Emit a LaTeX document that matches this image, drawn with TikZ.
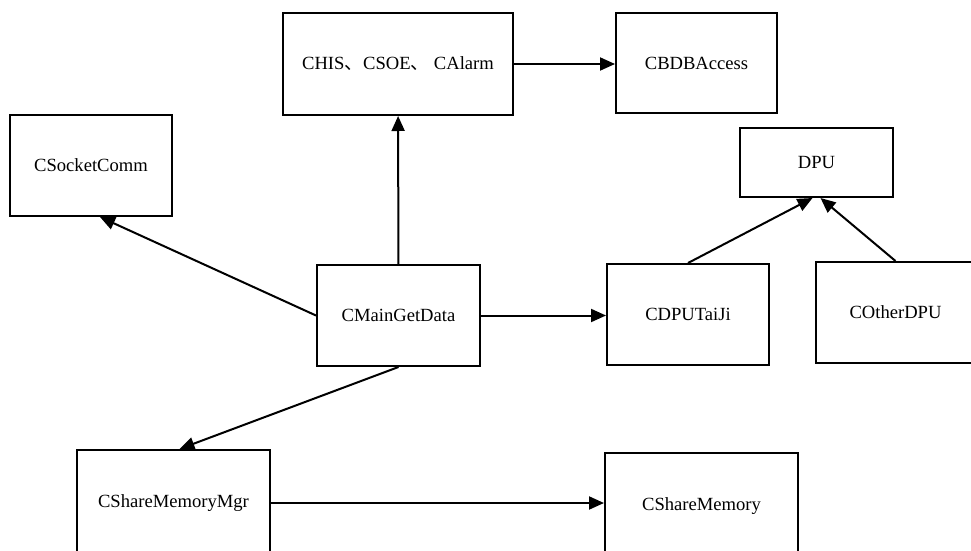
\documentclass[tikz,border=0pt]{standalone}
\usepackage{fontspec}
\setmainfont{Liberation Serif}
\newfontfamily\cjk{Noto Sans CJK SC}
\usetikzlibrary{arrows.meta}
\begin{document}
\begin{tikzpicture}[x=1pt,y=-1pt,
  box/.style={draw, line width=2pt, inner sep=0pt, font=\fontsize{18.6}{20}\selectfont},
  arr/.style={line width=2pt, -{Triangle[length=15pt,width=13pt]}}]
\useasboundingbox (0,0) rectangle (971,551);
\clip (0,0) rectangle (971,551);

% classes
\node[box, minimum width=230pt, minimum height=102pt] (his)   at (398,64)    {CHIS{\cjk 、}CSOE{\cjk 、} CAlarm};
\node[box, minimum width=161pt, minimum height=100pt] (bdb)   at (696.5,63)  {CBDBAccess};
\node[box, minimum width=162pt, minimum height=101pt] (sock)  at (91,165.5)  {CSocketComm};
\node[box, minimum width=153pt, minimum height=69pt]  (dpu)   at (816.5,162.5) {DPU};
\node[box, minimum width=163pt, minimum height=101pt] (main)  at (398.5,315.5) {CMainGetData};
\node[box, minimum width=162pt, minimum height=101pt] (taiji) at (688,314.5)  {CDPUTaiJi};
\node[box, minimum width=159pt, minimum height=101pt] (other) at (895.5,312.5) {COtherDPU};
\node[box, minimum width=193pt, minimum height=106pt] (smm)   at (173.5,503) {CShareMemoryMgr};
\node[box, minimum width=193pt, minimum height=106pt] (sm)    at (701.5,506) {CShareMemory};

% associations
\draw[arr] (main) -- (his);
\draw[arr] (his.east) -- (his.east -| bdb.west);
\draw[arr] (main.west) -- ([xshift=9pt]sock.south);
\draw[arr] (main.east) -- (main.east -| taiji.west);
\draw[arr] (main.south) -- ([xshift=6pt]smm.north);
\draw[arr] (smm.east) -- (smm.east -| sm.west);

% inheritance
\draw[arr] (taiji.north) -- ([xshift=-4pt]dpu.south);
\draw[arr] (other.north) -- ([xshift=4pt]dpu.south);
\end{tikzpicture}
\end{document}
